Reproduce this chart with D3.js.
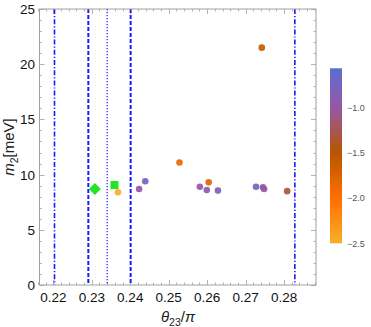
<!DOCTYPE html>
<html>
<head>
<meta charset="utf-8">
<script src="https://cdn.jsdelivr.net/npm/d3@7"></script>
<style>
  body { margin: 0; background: #fff; }
  text { font-family: "Liberation Sans", Arial, sans-serif; }
</style>
</head>
<body>
<svg id="chart" width="371" height="327"></svg>
<script>
// data
const thetaVals = [0.2368, 0.2423, 0.2439, 0.2528, 0.2581, 0.2599, 0.2604, 0.2628, 0.2727, 0.2742, 0.2745, 0.2748, 0.2808];
const m2Vals    = [8.4, 8.7, 9.4, 11.1, 8.9, 8.6, 9.3, 8.55, 8.9, 21.5, 8.85, 8.7, 8.5];
const colorVals = [-2.5, -1.0, -0.75, -1.85, -1.0, -0.9, -1.8, -0.85, -0.7, -1.6, -1.05, -1.0, -1.3];

const diamondPt = [0.2308, 8.7];
const squarePt  = [0.2359, 9.06];

const vLineX     = [0.2203, 0.2291, 0.2340, 0.2401, 0.2828];
const vLineStyle = ['dotdash', 'dashed', 'dotted', 'dashed', 'dotdash'];

const xTicks = [0.22, 0.23, 0.24, 0.25, 0.26, 0.27, 0.28];
const yTicks = [0, 5, 10, 15, 20, 25];
const cbTicks = [-1.0, -1.5, -2.0, -2.5];
const cbStops = [-2.5, -2.0, -1.5, -1.0, -0.57];
const cbColors = ['#f8ae2c', '#fe6f00', '#b85600', '#9657a8', '#5a6ecf'];

const svg = d3.select('#chart');
const L = 39.5, R = 316, T = 9, B = 285;

const x = d3.scaleLinear().domain([0.2164, 0.2883]).range([L, R]);
const y = d3.scaleLinear().domain([0, 25]).range([B, T]);
const color = d3.scaleLinear().domain(cbStops).range(cbColors).clamp(true);

const frameCol = '#a0a0a0';

// --- ticks (inward, all four sides) ---
const xMinor = d3.range(0.216, 0.2884, 0.002);
const yMinor = d3.range(0, 25.01, 1);
const tg = svg.append('g').attr('stroke', frameCol).attr('stroke-width', 0.8);
xMinor.forEach(v => {
  const major = xTicks.some(t => Math.abs(t - v) < 1e-6);
  const len = major ? 5 : 2.5;
  const px = Math.round(x(v)) + 0.5;
  tg.append('line').attr('x1', px).attr('x2', px).attr('y1', B).attr('y2', B - len);
  tg.append('line').attr('x1', px).attr('x2', px).attr('y1', T).attr('y2', T + len);
});
yMinor.forEach(v => {
  const major = v % 5 === 0;
  const len = major ? 5 : 2.5;
  const py = Math.round(y(v)) + 0.5;
  tg.append('line').attr('x1', L).attr('x2', L + len).attr('y1', py).attr('y2', py);
  tg.append('line').attr('x1', R).attr('x2', R - len).attr('y1', py).attr('y2', py);
});

// --- vertical reference lines ---
const dash = { dotdash: '5,2,1.2,2', dashed: '4,2', dotted: '1.2,1.8' };
const widths = { dotdash: 1.6, dashed: 2, dotted: 1.2 };
svg.append('g').selectAll('line').data(vLineX).join('line')
  .attr('x1', d => x(d)).attr('x2', d => x(d))
  .attr('y1', T).attr('y2', B)
  .attr('stroke', '#1a1aff')
  .attr('stroke-width', (d, i) => widths[vLineStyle[i]])
  .attr('stroke-dasharray', (d, i) => dash[vLineStyle[i]]);

// --- frame ---
svg.append('rect').attr('x', L).attr('y', T).attr('width', R - L).attr('height', B - T)
  .attr('fill', 'none').attr('stroke', frameCol).attr('stroke-width', 1);

// --- points ---
const pts = thetaVals.map((t, i) => ({ t, m: m2Vals[i], c: colorVals[i] }));
svg.append('g').selectAll('circle').data(pts).join('circle')
  .attr('cx', d => x(d.t)).attr('cy', d => y(d.m)).attr('r', 3.3)
  .attr('fill', d => color(d.c)).attr('opacity', 0.92);

// green markers
svg.append('path')
  .attr('d', d3.symbol().type(d3.symbolSquare).size(36 * 2)())
  .attr('transform', `translate(${x(diamondPt[0])},${y(diamondPt[1])}) rotate(45)`)
  .attr('fill', '#22e622');
svg.append('path')
  .attr('d', d3.symbol().type(d3.symbolSquare).size(64)())
  .attr('transform', `translate(${x(squarePt[0])},${y(squarePt[1])})`)
  .attr('fill', '#22e622');

// --- tick labels ---
svg.append('g').selectAll('text').data(xTicks).join('text')
  .attr('x', d => x(d)).attr('y', 302).attr('text-anchor', 'middle')
  .attr('font-size', 13.5).attr('fill', '#111').text(d => d.toFixed(2));
svg.append('g').selectAll('text').data(yTicks).join('text')
  .attr('x', 35).attr('y', d => y(d) + 5).attr('text-anchor', 'end')
  .attr('font-size', 13.5).attr('fill', '#111').text(d => d);

// --- axis titles ---
const xt = svg.append('text').attr('x', 178).attr('y', 322).attr('text-anchor', 'middle')
  .attr('font-size', 15).attr('fill', '#222');
xt.append('tspan').attr('font-style', 'italic').text('θ');
xt.append('tspan').attr('font-size', 10.5).attr('dy', 3.5).text('23');
xt.append('tspan').attr('dy', -3.5).text('/');
xt.append('tspan').attr('font-style', 'italic').text('π');

const yt = svg.append('text').attr('transform', 'translate(14,147) rotate(-90)')
  .attr('text-anchor', 'middle').attr('font-size', 15).attr('fill', '#222');
yt.append('tspan').attr('font-style', 'italic').text('m');
yt.append('tspan').attr('font-size', 10.5).attr('dy', 3.5).text('2');
yt.append('tspan').attr('dy', -3.5).text('[meV]');

// --- colour bar ---
const cb = d3.scaleLinear().domain([-2.5, -0.57]).range([243.3, 68.3]);
const grad = svg.append('defs').append('linearGradient').attr('id', 'cbgrad')
  .attr('x1', 0).attr('y1', 1).attr('x2', 0).attr('y2', 0);
cbStops.forEach((s, i) => grad.append('stop')
  .attr('offset', (s + 2.5) / (2.5 - 0.57)).attr('stop-color', cbColors[i]));
svg.append('rect').attr('x', 330).attr('y', cb(-0.57)).attr('width', 12)
  .attr('height', cb(-2.5) - cb(-0.57)).attr('fill', 'url(#cbgrad)');
svg.append('g').selectAll('text').data(cbTicks).join('text')
  .attr('x', 347).attr('y', d => cb(d) + 3.5).attr('font-size', 9).attr('fill', '#555')
  .text(d => '\u2212' + Math.abs(d).toFixed(1));
</script>
</body>
</html>
